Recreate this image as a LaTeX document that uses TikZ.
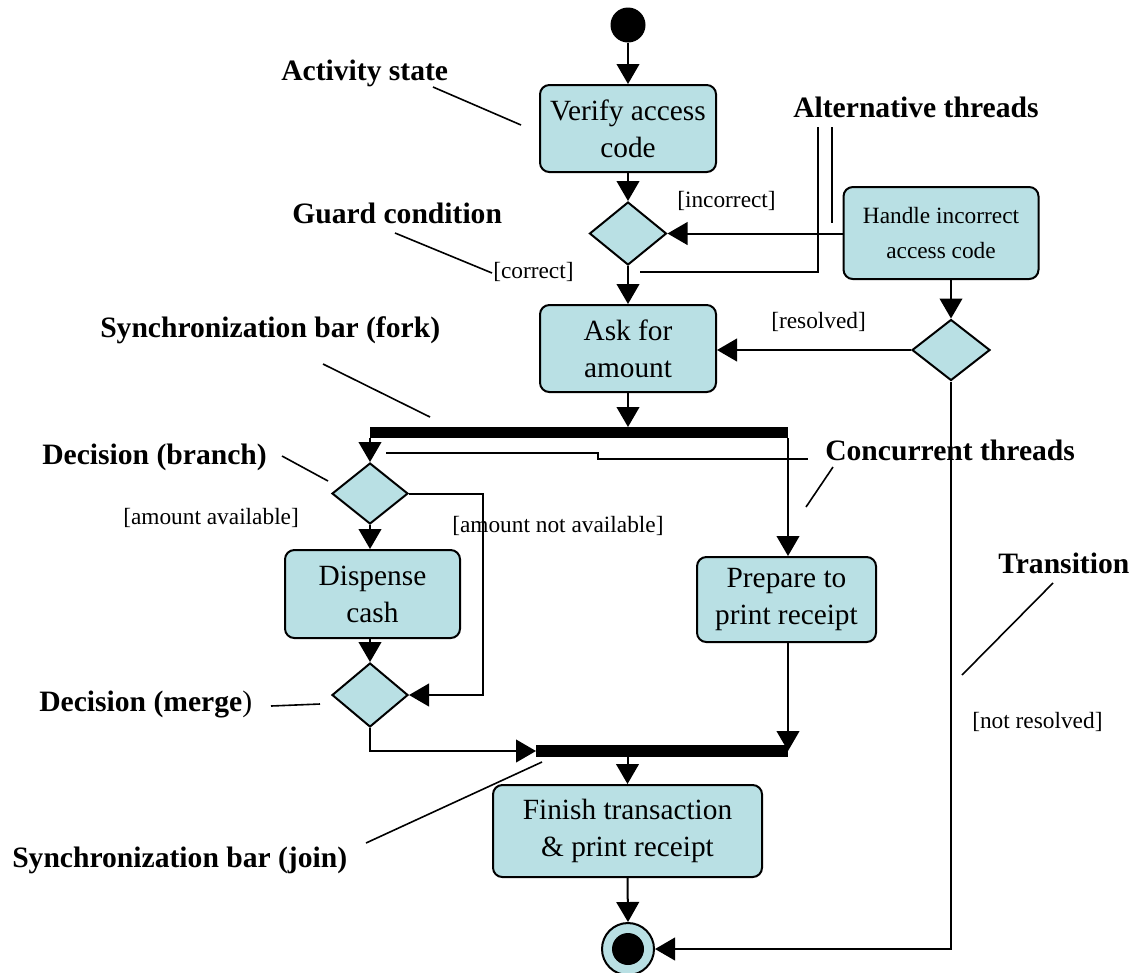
\documentclass[tikz,border=0pt]{standalone}
\usepackage{fontspec}
\setmainfont{Liberation Serif}
\usetikzlibrary{arrows.meta,shapes.geometric}

\definecolor{actfill}{RGB}{185,224,228}
% one drawing unit = one pixel of the intended output
\newcommand\pxl[1]{#1*0.75pt}

\tikzset{
  activity/.style={draw, line width=1.5pt, fill=actfill, rounded corners=7pt,
    align=center, inner sep=0pt, font=\fontsize{22}{27.75}\selectfont,
    execute at begin node={\rule{0pt}{21pt}}},
  smallact/.style={activity, font=\fontsize{17.5}{26.5}\selectfont,
    execute at begin node={\rule{0pt}{18pt}}},
  decision/.style={diamond, draw, line width=1.5pt, fill=actfill, inner sep=0pt},
  syncbar/.style={rectangle, fill=black, inner sep=0pt, outer sep=0pt},
  flow/.style={line width=1.5pt, -{Triangle[length=15pt,width=17pt]}},
  pointer/.style={line width=1.2pt},
  callout/.style={inner sep=0pt, font=\fontsize{22.2}{26}\selectfont\bfseries},
  guard/.style={inner sep=0pt, font=\fontsize{17.5}{21}\selectfont},
}

\begin{document}
\begin{tikzpicture}[x=0.75pt, y=-0.75pt]
\useasboundingbox (0,0) rectangle (1137,972);

% ---- activity states, decisions, bars ----
\node[circle, fill=black, inner sep=0pt, minimum size=\pxl{35}] (start) at (628,25) {};
\node[activity, minimum width=\pxl{176}, minimum height=\pxl{87}] (verify) at (628,128.5) {Verify access\\code};
\node[decision, minimum width=\pxl{77}, minimum height=\pxl{63}] (d1) at (628,233.5) {};
\node[smallact, minimum width=\pxl{195}, minimum height=\pxl{92}] (handle) at (941,233) {Handle incorrect\\access code};
\node[decision, minimum width=\pxl{78}, minimum height=\pxl{61}] (d2) at (951,350) {};
\node[activity, minimum width=\pxl{176}, minimum height=\pxl{87}] (ask) at (628,348.5) {Ask for\\amount};
\node[syncbar, minimum width=\pxl{418}, minimum height=\pxl{11}] (fork) at (579,432.5) {};
\node[decision, minimum width=\pxl{76}, minimum height=\pxl{61}] (d3) at (370,493.5) {};
\node[activity, minimum width=\pxl{175}, minimum height=\pxl{88}] (dispense) at (372.5,594) {Dispense\\cash};
\node[activity, minimum width=\pxl{179}, minimum height=\pxl{85}] (prepare) at (786.5,599.5) {Prepare to\\print receipt};
\node[decision, minimum width=\pxl{76}, minimum height=\pxl{64}] (d4) at (370,695) {};
\node[syncbar, minimum width=\pxl{252}, minimum height=\pxl{12}] (join) at (662,751) {};
\node[activity, minimum width=\pxl{269}, minimum height=\pxl{92}] (finish) at (627.5,831) {Finish transaction\\\& print receipt};
\node[circle, draw, line width=1.5pt, fill=actfill, inner sep=0pt, minimum size=\pxl{52}] (final) at (628,949) {};
\node[circle, fill=black, inner sep=0pt, minimum size=\pxl{32}] (finaldot) at (final.center) {};

% ---- transitions ----
\draw[flow] (start) -- (verify);
\draw[flow] (verify) -- (d1);
\draw[flow] (handle.west |- d1.east) -- (d1.east);
\draw[flow] (d1) -- (ask);
\draw[flow] (d2.north |- handle.south) -- (d2.north);
\draw[flow] (d2.west) -- (ask.east |- d2.west);
\draw[flow] (d2.south) |- (final.east);
\draw[flow] (ask.south) -- (ask.south |- fork.north);
\draw[flow] (d3.north |- fork.south) -- (d3.north);
\draw[flow] (fork.south east) -- (fork.south east |- prepare.north);
\draw[flow] (d3.south) -- (d3.south |- dispense.north);
\coordinate (bypass) at (483,0);
\draw[flow] (d3.east) -- (d3.east -| bypass) |- (d4.east);
\draw[flow] (d4.north |- dispense.south) -- (d4.north);
\draw[flow] (d4.south) |- (join.west);
\draw[flow] (join.east |- prepare.south) -- (join.east);
\draw[flow] (finish.north |- join.south) -- (finish.north);
\draw[flow] (finish.south) -- (final.north);

% ---- guard conditions ----
\node[guard, anchor=west] (gincorrect) at (677,201) {[incorrect]};
\node[guard, anchor=west] (gcorrect) at (493,272) {[correct]};
\node[guard, anchor=west] (gresolved) at (771,322) {[resolved]};
\node[guard, anchor=west] (gavail) at (123,518) {[amount available]};
\node[guard, anchor=west] (gnotavail) at (452,526) {[amount not available]};
\node[guard, anchor=west] (gnotres) at (972,722) {[not resolved]};

% ---- callouts ----
\node[callout, anchor=west] (lactivity) at (281,73) {Activity state};
\node[callout, anchor=west] (lguard) at (292,213) {Guard condition};
\node[callout, anchor=west] (lalt) at (793,107) {Alternative threads};
\node[callout, anchor=west] (lfork) at (100,330) {Synchronization bar (fork)};
\node[callout, anchor=east] (lbranch) at (267,457) {Decision (branch)};
\node[callout, anchor=west] (lconc) at (825,450) {Concurrent threads};
\node[callout, anchor=west] (ltrans) at (998,563) {Transition};
\node[callout, anchor=west] (lmerge) at (39,704) {Decision (merge{\mdseries)}};
\node[callout, anchor=west] (ljoin) at (12,860) {Synchronization bar (join)};

% ---- callout leader lines ----
\coordinate (pa1) at (433,87);  \coordinate (pa2) at (521,125);
\coordinate (pg1) at (395,233); \coordinate (pg2) at (492,273);
\coordinate (pt1) at (818,127); \coordinate (pt2) at (818,272); \coordinate (pt3) at (640,272);
\coordinate (pt4) at (832,127); \coordinate (pt5) at (832,223);
\coordinate (pf1) at (323,364); \coordinate (pf2) at (430,417);
\coordinate (pb1) at (282,456); \coordinate (pb2) at (328,481);
\coordinate (pc1) at (386,453); \coordinate (pc2) at (598,453); \coordinate (pc3) at (598,459); \coordinate (pc4) at (808,459);
\coordinate (pc5) at (833,467); \coordinate (pc6) at (806,507);
\coordinate (ptr1) at (1053,583); \coordinate (ptr2) at (962,675);
\coordinate (pm1) at (271,706); \coordinate (pm2) at (320,704);
\coordinate (pj1) at (366,843); \coordinate (pj2) at (542,762);

\draw[pointer] (pa1) -- (pa2);
\draw[pointer] (pg1) -- (pg2);
\draw[pointer] (pt1) -- (pt2) -- (pt3);
\draw[pointer] (pt4) -- (pt5);
\draw[pointer] (pf1) -- (pf2);
\draw[pointer] (pb1) -- (pb2);
\draw[pointer] (pc1) -- (pc2) -- (pc3) -- (pc4);
\draw[pointer] (pc5) -- (pc6);
\draw[pointer] (ptr1) -- (ptr2);
\draw[pointer] (pm1) -- (pm2);
\draw[pointer] (pj1) -- (pj2);
\end{tikzpicture}
\end{document}
